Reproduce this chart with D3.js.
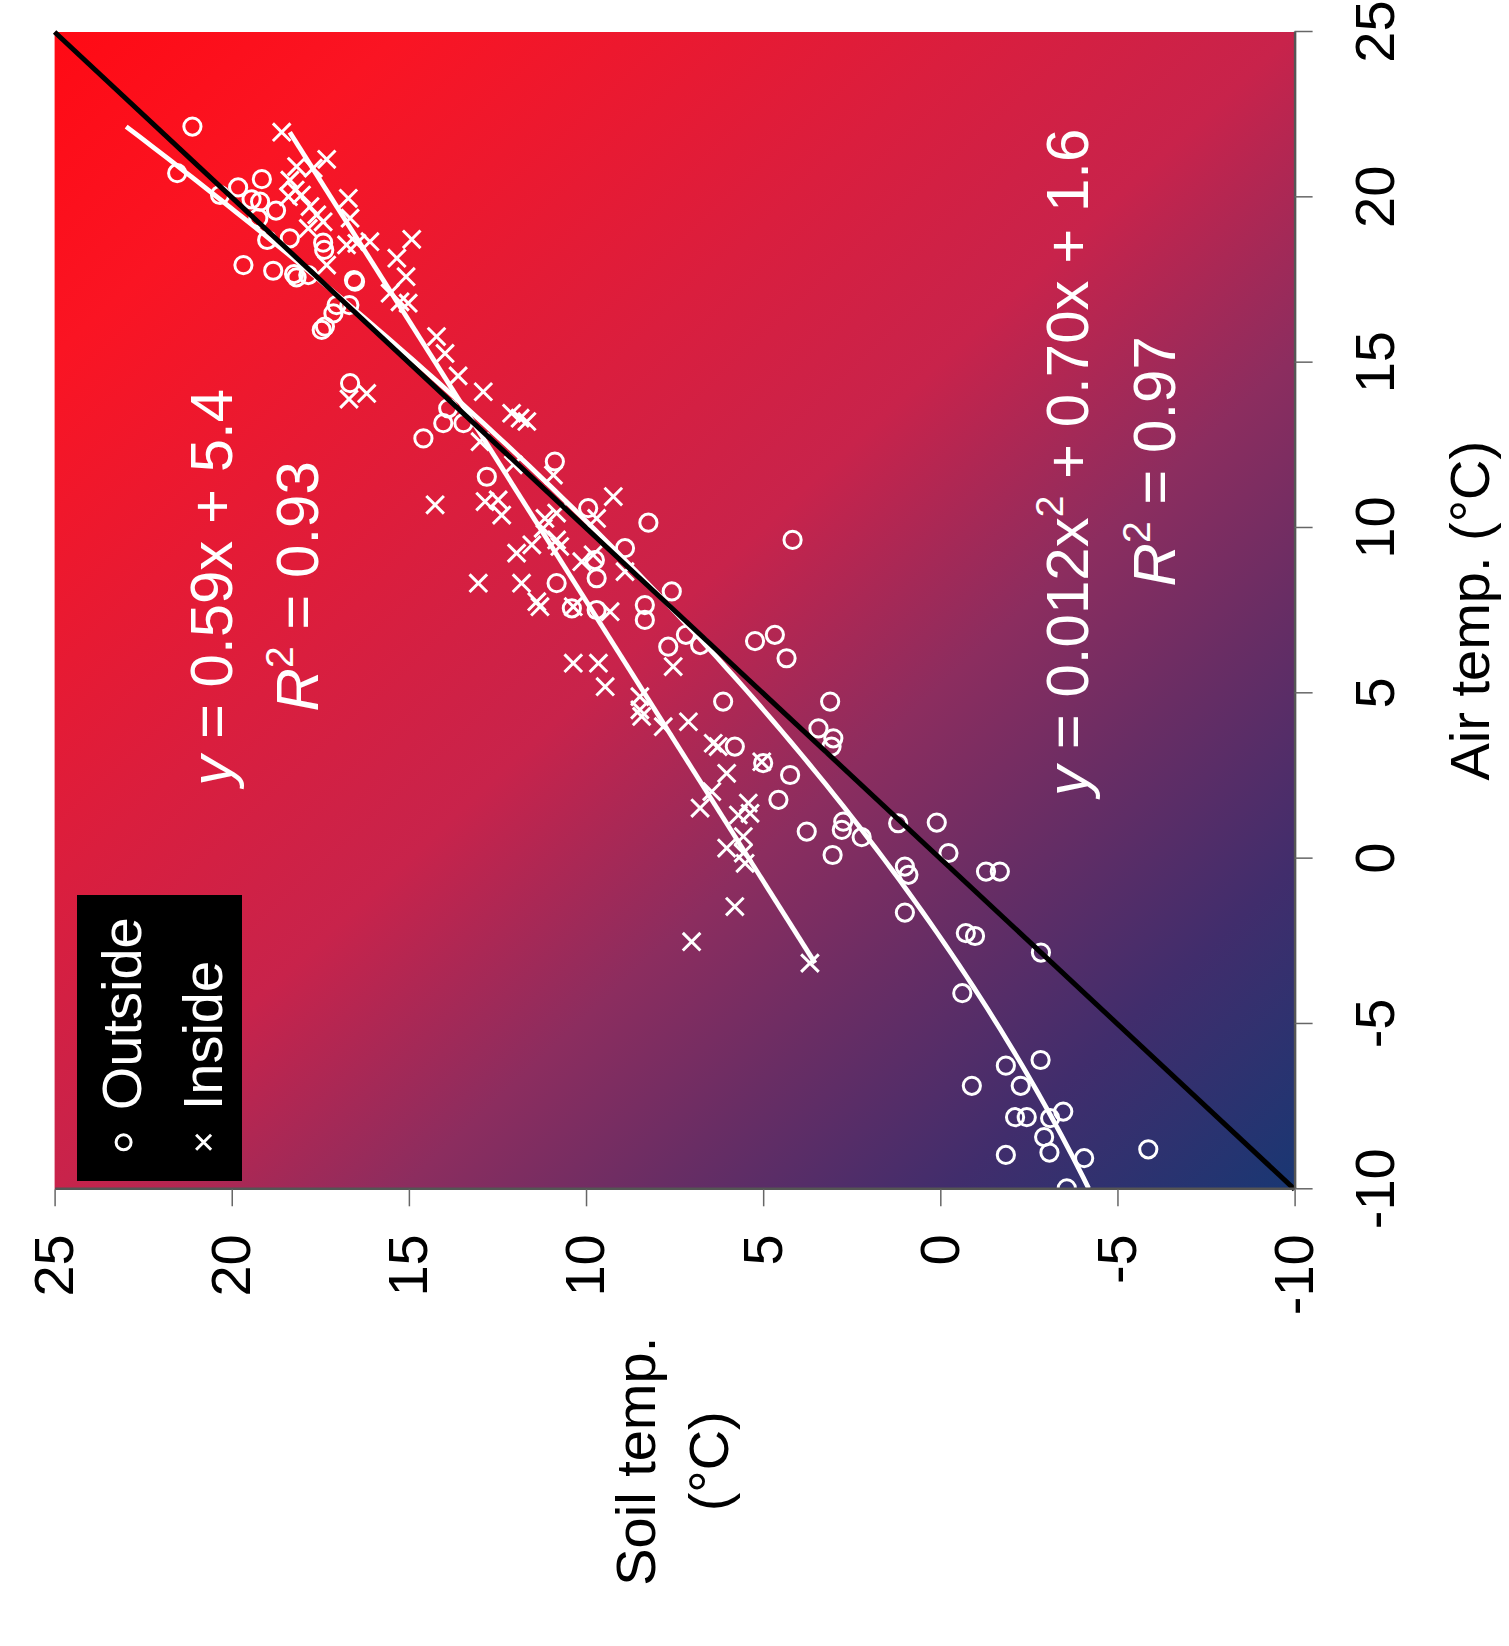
<!DOCTYPE html>
<meta charset="utf-8">
<style>
  body { margin: 0; background: #fff; }
  text { font-family: "Liberation Sans", Arial, Helvetica, sans-serif; white-space: pre; }
  .axis .domain { stroke: #555; stroke-width: 2.5px; }
  .axis .tick line { stroke: #666; stroke-width: 1.5px; }
  .axis .tick text { font-size: 56px; fill: #000; }
  .outside { fill: none; stroke: #fff; stroke-width: 3px; }
  .inside { fill: none; stroke: #fff; stroke-width: 3px; }
  .fit { fill: none; stroke: #fff; stroke-width: 4.8px; }
  .oneone { fill: none; stroke: #000; stroke-width: 5px; }
  .note { font-size: 60px; fill: #fff; }
</style>

<body>

  <!-- load the d3.js library -->
  <script src="https://d3js.org/d3.v7.min.js"></script>
  <script>
    // Outside (open circles): air temp and soil temp
    var outsideAir = [22.14, 20.73, 20.07, 20.30, 20.55, 19.94, 19.87, 19.60, 19.37, 18.71,
      18.76, 18.63, 18.41, 17.95, 17.78, 17.68, 17.58, 17.65, 17.50, 17.45,
      16.74, 16.74, 16.49, 16.09, 15.99, 14.38, 13.62, 13.17, 13.17, 12.71,
      11.55, 12.01, 10.60, 10.16, 9.39, 9.03, 8.48, 8.33, 7.57, 7.52,
      7.67, 7.22, 8.08, 6.41, 9.64, 6.77, 6.46, 6.58, 6.77, 6.06,
      4.75, 4.75, 3.94, 3.64, 3.39, 3.39, 2.89, 2.53, 1.78, 0.82,
      0.11, 1.12, 0.87, 0.65, 1.07, 1.09, -0.24, -0.49, -1.63, 0.17,
      -0.39, -0.39, -2.25, -2.34, -2.84, -4.07, -6.26, -6.09, -6.87, -6.87,
      -7.82, -7.82, -7.85, -7.65, -8.42, -8.89, -8.96, -9.06, -9.97, -8.79];
    var outsideSoil = [21.11, 21.54, 20.33, 19.82, 19.15, 19.44, 19.20, 18.75, 19.25, 19.00,
      18.36, 17.42, 17.39, 19.67, 18.83, 18.24, 18.17, 17.84, 16.55, 16.52,
      17.04, 16.68, 17.13, 17.37, 17.46, 16.66, 13.89, 14.03, 13.46, 14.59,
      12.80, 10.88, 9.94, 8.24, 8.90, 9.75, 9.70, 10.83, 10.40, 9.70,
      8.34, 8.34, 7.58, 7.68, 4.17, 7.18, 6.78, 5.23, 4.67, 4.34,
      6.13, 3.11, 3.44, 3.02, 3.07, 5.80, 5.00, 4.24, 4.57, 3.77,
      3.04, 2.74, 2.78, 2.22, 1.19, 0.10, 1.00, 0.90, 1.00, -0.23,
      -1.29, -1.68, -0.72, -0.98, -2.84, -0.62, -1.85, -2.83, -0.89, -2.27,
      -2.11, -2.44, -3.10, -3.47, -2.93, -3.08, -1.85, -4.06, -3.57, -5.87];

    // Inside (crosses): air temp and soil temp
    var insideAir = [21.97, 21.15, 20.88, 20.93, 20.52, 20.22, 20.07, 20.02, 19.72, 19.97,
      19.47, 19.26, 19.06, 19.37, 18.56, 18.61, 18.66, 18.73, 18.16, 17.60,
      17.10, 16.80, 16.84, 17.95, 15.79, 15.28, 14.07, 13.90, 14.60, 14.12,
      13.47, 13.32, 13.22, 12.61, 11.91, 11.60, 10.70, 10.80, 10.85, 10.39,
      10.29, 10.45, 10.95, 10.29, 9.99, 9.64, 9.49, 9.24, 9.44, 8.98,
      9.19, 8.68, 8.33, 8.33, 7.77, 7.62, 7.62, 7.47, 5.91, 5.91,
      5.81, 5.20, 4.90, 4.50, 4.30, 3.99, 4.14, 3.49, 3.39, 2.93,
      2.58, 2.03, 1.53, 1.68, 1.37, 1.32, 0.67, 0.32, 0.17, -0.14,
      -1.45, -2.51, -3.16];
    var insideSoil = [18.59, 17.32, 17.70, 18.17, 18.36, 18.21, 18.03, 18.40, 17.79, 16.71,
      17.60, 17.42, 17.84, 16.66, 16.76, 16.47, 16.10, 14.92, 15.34, 15.08,
      15.53, 15.02, 15.25, 17.32, 14.22, 13.98, 16.19, 16.69, 13.61, 12.90,
      12.10, 11.86, 11.67, 12.99, 12.05, 10.92, 14.26, 12.85, 12.48, 12.38,
      11.16, 10.83, 9.23, 9.70, 11.21, 10.83, 11.53, 11.96, 10.74, 10.12,
      9.80, 8.90, 13.04, 11.82, 11.39, 11.30, 10.36, 9.32, 10.36, 9.65,
      7.54, 9.46, 8.48, 8.48, 8.43, 7.82, 7.11, 6.41, 6.27, 5.04,
      6.03, 6.45, 6.78, 5.42, 5.37, 5.70, 5.56, 6.03, 5.56, 5.51,
      5.80, 7.02, 3.68];

    // fitted curves as printed on the chart
    var insideFit = [0.59, 5.4];          // slope, intercept
    var outsideFit = [0.012, 0.70, 1.6];  // x^2, x, constant
    var insideR2 = "0.93";
    var outsideR2 = "0.97";

    var tickValues = [-10, -5, 0, 5, 10, 15, 20, 25];

    // background colour runs with air + soil
    var bgStops = [
      [0, "#193773"], [0.14, "#412d6c"], [0.26, "#692d64"], [0.36, "#8c2d5f"],
      [0.5, "#c8234b"], [0.63, "#da1e3e"], [0.86, "#fa1423"], [1, "#ff0a14"]
    ];

    // the chart is drawn upright, then turned a quarter turn to the left
    var width = 1157.3,
      height = 1240;

    var svg = d3.select("body").append("svg")
      .attr("width", 1509)
      .attr("height", 1646);

    var defs = svg.append("defs");
    var grad = defs.append("linearGradient")
      .attr("id", "bg")
      .attr("x1", 0).attr("y1", 1)
      .attr("x2", 1).attr("y2", 0);
    grad.selectAll("stop")
      .data(bgStops)
      .enter().append("stop")
      .attr("offset", function(d) { return d[0]; })
      .attr("stop-color", function(d) { return d[1]; });

    var g = svg.append("g")
      .attr("transform", "translate(54.6,1189.3) rotate(-90)");

    // set the ranges
    var x = d3.scaleLinear().domain([-10, 25]).range([0, width]);
    var y = d3.scaleLinear().domain([-10, 25]).range([height, 0]);

    g.append("rect")
      .attr("width", width)
      .attr("height", height)
      .attr("fill", "url(#bg)");

    // points
    var outside = outsideAir.map(function(a, i) { return [a, outsideSoil[i]]; });
    var inside = insideAir.map(function(a, i) { return [a, insideSoil[i]]; });

    g.selectAll(".outside")
      .data(outside)
      .enter().append("circle")
      .attr("class", "outside")
      .attr("cx", function(d) { return x(d[0]); })
      .attr("cy", function(d) { return y(d[1]); })
      .attr("r", 8.6);

    var h = 8.8;
    g.selectAll(".inside")
      .data(inside)
      .enter().append("path")
      .attr("class", "inside")
      .attr("transform", function(d) { return "translate(" + x(d[0]) + "," + y(d[1]) + ")"; })
      .attr("d", "M" + -h + "," + -h + "L" + h + "," + h + "M" + -h + "," + h + "L" + h + "," + -h);

    // fit lines
    var line = d3.line()
      .x(function(d) { return x(d[0]); })
      .y(function(d) { return y(d[1]); });

    var inExt = d3.extent(insideAir);
    g.append("path")
      .attr("class", "fit")
      .attr("d", line(inExt.map(function(a) { return [a, insideFit[0] * a + insideFit[1]]; })));

    var outExt = d3.extent(outsideAir);
    var outCurve = d3.range(0, 101).map(function(i) {
      var a = outExt[0] + (outExt[1] - outExt[0]) * i / 100;
      return [a, outsideFit[0] * a * a + outsideFit[1] * a + outsideFit[2]];
    });
    g.append("path")
      .attr("class", "fit")
      .attr("d", line(outCurve));

    // 1:1 line
    g.append("path")
      .attr("class", "oneone")
      .attr("d", line([[-10, -10], [25, 25]]));

    // axes
    g.append("g")
      .attr("class", "axis")
      .attr("transform", "translate(0," + height + ")")
      .call(d3.axisBottom(x).tickValues(tickValues).tickSize(18).tickSizeOuter(0)
        .tickPadding(42).tickFormat(function(d) { return String(d); }));

    g.append("g")
      .attr("class", "axis")
      .call(d3.axisLeft(y).tickValues(tickValues).tickSize(17).tickSizeOuter(0)
        .tickPadding(28).tickFormat(function(d) { return String(d); }));

    // axis titles
    g.append("text")
      .attr("x", width / 2)
      .attr("y", 1434)
      .attr("text-anchor", "middle")
      .style("font-size", "56px")
      .text("Air temp. (°C)");

    var soilTitle = g.append("text")
      .attr("text-anchor", "middle")
      .style("font-size", "56px");
    soilTitle.append("tspan").attr("x", -272).attr("y", 600).text("Soil temp.");
    soilTitle.append("tspan").attr("x", -272).attr("y", 673).text("(°C)");

    // equations
    function equation(tx, ty, parts) {
      var t = g.append("text")
        .attr("class", "note")
        .attr("text-anchor", "middle")
        .attr("x", tx)
        .attr("y", ty);
      parts.forEach(function(p) {
        var s = t.append("tspan").text(p[0]);
        if (p[1] === "i") s.style("font-style", "italic");
        if (p[1] === "sup") s.attr("dy", -25).style("font-size", "39px");
        if (p[1] === "down") s.attr("dy", 25);
      });
    }

    equation(602, 177, [["y", "i"], [" = " + insideFit[0] + "x + " + insideFit[1], ""]]);
    equation(603, 263, [["R", "i"], ["2", "sup"], [" = " + insideR2, "down"]]);
    equation(727, 1033, [["y", "i"], [" = " + outsideFit[0] + "x", ""], ["2", "sup"],
      [" + " + outsideFit[1].toFixed(2) + "x + " + outsideFit[2], "down"]]);
    equation(728, 1120, [["R", "i"], ["2", "sup"], [" = " + outsideR2, "down"]]);

    // legend
    var legend = g.append("g");
    legend.append("rect")
      .attr("x", 8.3)
      .attr("y", 22.4)
      .attr("width", 286)
      .attr("height", 165)
      .attr("fill", "#000");
    legend.append("circle")
      .attr("class", "outside")
      .attr("cx", 47)
      .attr("cy", 69)
      .attr("r", 7.5);
    var lh = 7.5;
    legend.append("path")
      .attr("class", "inside")
      .attr("transform", "translate(47,149)")
      .attr("d", "M" + -lh + "," + -lh + "L" + lh + "," + lh + "M" + -lh + "," + lh + "L" + lh + "," + -lh);
    legend.append("text")
      .attr("x", 79).attr("y", 86)
      .style("font-size", "56px").attr("fill", "#fff")
      .text("Outside");
    legend.append("text")
      .attr("x", 79).attr("y", 167)
      .style("font-size", "56px").attr("fill", "#fff")
      .text("Inside");
  </script>
</body>
